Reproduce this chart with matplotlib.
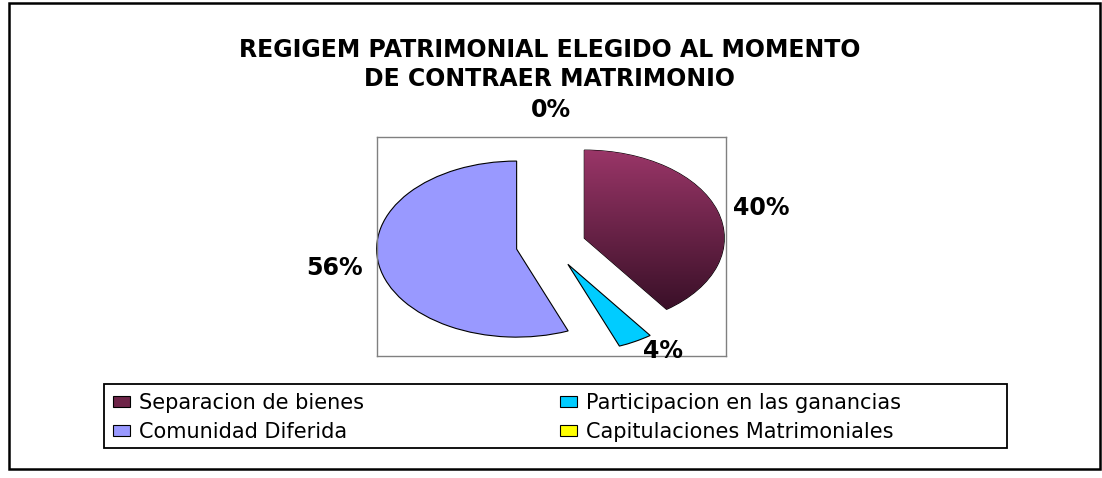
import numpy as np
import matplotlib
matplotlib.use("Agg")
import matplotlib.pyplot as plt
from matplotlib.patches import Rectangle, Patch
from matplotlib.colors import LinearSegmentedColormap

# data
categories = ["Separacion de bienes", "Participacion en las ganancias",
              "Comunidad Diferida", "Capitulaciones Matrimoniales"]
values = [40, 4, 56, 0]
colors = ["#993366", "#00CCFF", "#9999FF", "#FFFF00"]
title = "REGIGEM PATRIMONIAL ELEGIDO AL MOMENTO\nDE CONTRAER MATRIMONIO"

W, H = 1102, 478
fig = plt.figure(figsize=(W / 100, H / 100), dpi=100)
plt.rcParams['font.family'] = ['DejaVu Sans']

# outer border
fig.patches.append(Rectangle((9 / W, (H - 469) / H), 1091 / W, 466 / H,
                             transform=fig.transFigure, fill=False,
                             edgecolor="black", linewidth=1.8))

fig.text(550 / W, 1 - 64.5 / H, title, ha="center", va="center",
         fontsize=17, fontweight="bold", linespacing=1.25)

# plot area
ax = fig.add_axes([377 / W, (H - 355.7) / H, 349 / W, 219 / H])
labels = [f"{v:.0f}%" for v in values]
wedges, texts = ax.pie(values, colors=colors, explode=[0.25] * len(values),
                       startangle=90, counterclock=False, labels=labels,
                       labeldistance=1.12,
                       wedgeprops=dict(edgecolor="black", linewidth=0.8),
                       textprops=dict(fontsize=17, fontweight="bold"))
ax.set_aspect("auto")
ax.set_frame_on(True)
ax.set_xticks([])
ax.set_yticks([])
for s in ax.spines.values():
    s.set_visible(True)
    s.set_edgecolor("#808080")
    s.set_linewidth(1)

# zero slice: no outline, label above the pie
for w, t, v in zip(wedges, texts, values):
    if v == 0:
        w.set_edgecolor("none")
        t.set_ha("center")
        t.set_position((w.center[0], w.center[1] + 1.28))

# gradient on the first slice
w0 = wedges[0]
bb = w0.get_path().get_extents()
cmap = LinearSegmentedColormap.from_list("g", ["#9a3668", "#3a1028"])
grad = np.linspace(0, 1, 256).reshape(-1, 1)
im = ax.imshow(grad, cmap=cmap, aspect="auto", origin="upper",
               extent=(bb.x0, bb.x1, bb.y0, bb.y1), zorder=w0.get_zorder())
im.set_clip_path(w0)
w0.set_facecolor("none")
ax.set_xlim(-1.243, 1.25)
ax.set_ylim(-1.258, 1.23)

# legend
fig.patches.append(Rectangle((104 / W, (H - 448) / H), 903 / W, 64 / H,
                             transform=fig.transFigure, fill=False,
                             edgecolor="black", linewidth=1.3))
leg_colors = ["#6e2448"] + colors[1:]
handles = [Patch(facecolor=c, edgecolor="black", linewidth=0.8) for c in leg_colors]
order = [0, 2, 1, 3]
fig.legend([handles[i] for i in order], [categories[i] for i in order],
           ncol=2, loc="upper left", bbox_to_anchor=(113 / W, 1 - 393 / H),
           frameon=False, borderpad=0, borderaxespad=0, fontsize=15,
           handlelength=0.82, handleheight=0.48, handletextpad=0.43,
           columnspacing=9.4, labelspacing=0.42)

fig.savefig("out.png", dpi=100)
